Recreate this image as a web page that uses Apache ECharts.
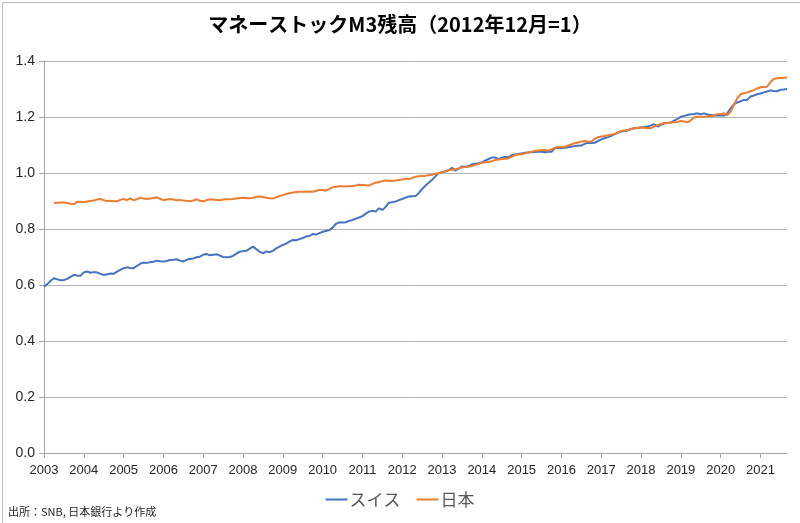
<!DOCTYPE html>
<html>
<head>
<meta charset="utf-8">
<script src="https://cdn.jsdelivr.net/npm/echarts@6/dist/echarts.min.js"></script>
<style>
html,body{margin:0;padding:0;background:#fff;}
#chart{width:800px;height:523px;}
</style>
</head>
<body>
<div id="chart"></div>
<script>
// Monthly values, 2003-01 .. 2021-09 (index: 2012年12月 = 1)
const swiss2003 = [0.594, 0.603, 0.615, 0.624, 0.620, 0.617, 0.618, 0.622, 0.629, 0.636, 0.634, 0.633];
const swiss2004 = [0.645, 0.648, 0.644, 0.646, 0.645, 0.640, 0.636, 0.638, 0.641, 0.640, 0.648, 0.654];
const swiss2005 = [0.660, 0.663, 0.661, 0.660, 0.668, 0.676, 0.680, 0.679, 0.681, 0.683, 0.687, 0.685];
const swiss2006 = [0.684, 0.686, 0.689, 0.690, 0.692, 0.687, 0.684, 0.690, 0.693, 0.695, 0.699, 0.701];
const swiss2007 = [0.708, 0.711, 0.706, 0.708, 0.710, 0.705, 0.700, 0.699, 0.700, 0.704, 0.712, 0.719];
const swiss2008 = [0.721, 0.722, 0.730, 0.737, 0.728, 0.719, 0.713, 0.720, 0.717, 0.722, 0.731, 0.737];
const swiss2009 = [0.743, 0.748, 0.755, 0.761, 0.760, 0.764, 0.768, 0.773, 0.775, 0.782, 0.780, 0.785];
const swiss2010 = [0.790, 0.793, 0.796, 0.805, 0.818, 0.824, 0.823, 0.824, 0.829, 0.832, 0.837, 0.841];
const swiss2011 = [0.846, 0.855, 0.862, 0.865, 0.862, 0.874, 0.868, 0.879, 0.894, 0.896, 0.898, 0.903];
const swiss2012 = [0.907, 0.912, 0.916, 0.917, 0.918, 0.928, 0.943, 0.955, 0.965, 0.976, 0.988, 1.000];
const swiss2013 = [1.003, 1.006, 1.010, 1.019, 1.008, 1.016, 1.023, 1.022, 1.024, 1.031, 1.033, 1.035];
const swiss2014 = [1.038, 1.044, 1.050, 1.055, 1.055, 1.050, 1.054, 1.058, 1.056, 1.064, 1.066, 1.068];
const swiss2015 = [1.070, 1.072, 1.073, 1.074, 1.075, 1.076, 1.076, 1.074, 1.076, 1.076, 1.088, 1.090];
const swiss2016 = [1.089, 1.090, 1.092, 1.094, 1.096, 1.097, 1.098, 1.104, 1.108, 1.107, 1.108, 1.114];
const swiss2017 = [1.120, 1.124, 1.128, 1.133, 1.138, 1.144, 1.148, 1.150, 1.152, 1.157, 1.160, 1.161];
const swiss2018 = [1.163, 1.164, 1.166, 1.170, 1.174, 1.166, 1.172, 1.178, 1.179, 1.180, 1.187, 1.193];
const swiss2019 = [1.201, 1.204, 1.207, 1.210, 1.211, 1.213, 1.210, 1.213, 1.209, 1.207, 1.205, 1.205];
const swiss2020 = [1.205, 1.205, 1.213, 1.231, 1.245, 1.252, 1.256, 1.261, 1.261, 1.273, 1.277, 1.281];
const swiss2021 = [1.284, 1.288, 1.291, 1.295, 1.293, 1.292, 1.297, 1.298, 1.300];

const japan2003 = [null, null, null, 0.893, 0.894, 0.895, 0.895, 0.893, 0.890, 0.889, 0.897, 0.896];
const japan2004 = [0.896, 0.898, 0.900, 0.902, 0.905, 0.907, 0.903, 0.900, 0.901, 0.899, 0.899, 0.904];
const japan2005 = [0.907, 0.903, 0.909, 0.903, 0.906, 0.912, 0.909, 0.907, 0.909, 0.911, 0.913, 0.908];
const japan2006 = [0.903, 0.905, 0.907, 0.905, 0.903, 0.904, 0.902, 0.901, 0.899, 0.902, 0.906, 0.901];
const japan2007 = [0.899, 0.903, 0.906, 0.905, 0.904, 0.903, 0.905, 0.906, 0.906, 0.907, 0.909, 0.911];
const japan2008 = [0.912, 0.911, 0.910, 0.912, 0.914, 0.916, 0.914, 0.912, 0.910, 0.909, 0.913, 0.918];
const japan2009 = [0.921, 0.925, 0.928, 0.930, 0.932, 0.933, 0.933, 0.933, 0.934, 0.933, 0.936, 0.939];
const japan2010 = [0.939, 0.937, 0.943, 0.949, 0.951, 0.953, 0.953, 0.953, 0.953, 0.954, 0.955, 0.958];
const japan2011 = [0.957, 0.956, 0.955, 0.961, 0.965, 0.968, 0.971, 0.973, 0.972, 0.971, 0.973, 0.975];
const japan2012 = [0.977, 0.980, 0.978, 0.982, 0.987, 0.988, 0.989, 0.990, 0.992, 0.994, 0.997, 1.000];
const japan2013 = [1.002, 1.005, 1.011, 1.012, 1.013, 1.016, 1.020, 1.021, 1.023, 1.025, 1.029, 1.032];
const japan2014 = [1.037, 1.038, 1.039, 1.042, 1.046, 1.048, 1.050, 1.051, 1.052, 1.058, 1.064, 1.066];
const japan2015 = [1.067, 1.070, 1.073, 1.076, 1.079, 1.080, 1.081, 1.082, 1.079, 1.084, 1.090, 1.092];
const japan2016 = [1.093, 1.094, 1.098, 1.102, 1.106, 1.109, 1.112, 1.114, 1.112, 1.112, 1.122, 1.128];
const japan2017 = [1.130, 1.132, 1.135, 1.137, 1.139, 1.145, 1.150, 1.152, 1.154, 1.157, 1.160, 1.162];
const japan2018 = [1.162, 1.162, 1.161, 1.160, 1.166, 1.171, 1.175, 1.178, 1.179, 1.180, 1.181, 1.182];
const japan2019 = [1.186, 1.184, 1.181, 1.188, 1.198, 1.201, 1.201, 1.201, 1.202, 1.203, 1.205, 1.210];
const japan2020 = [1.211, 1.213, 1.207, 1.219, 1.243, 1.267, 1.281, 1.285, 1.288, 1.292, 1.296, 1.302];
const japan2021 = [1.306, 1.307, 1.308, 1.324, 1.336, 1.338, 1.339, 1.340, 1.341];

const years = [2003,2004,2005,2006,2007,2008,2009,2010,2011,2012,2013,2014,2015,2016,2017,2018,2019,2020,2021];
const yTicks = [0.0, 0.2, 0.4, 0.6, 0.8, 1.0, 1.2, 1.4];
const seriesNames = ['スイス', '日本'];
const titleText = 'マネーストックM3残高（2012年12月=1）';
const sourceText = '出所：SNB, 日本銀行より作成';

const swiss = [].concat(swiss2003, swiss2004, swiss2005, swiss2006, swiss2007, swiss2008, swiss2009,
  swiss2010, swiss2011, swiss2012, swiss2013, swiss2014, swiss2015, swiss2016, swiss2017, swiss2018,
  swiss2019, swiss2020, swiss2021);
const japan = [].concat(japan2003, japan2004, japan2005, japan2006, japan2007, japan2008, japan2009,
  japan2010, japan2011, japan2012, japan2013, japan2014, japan2015, japan2016, japan2017, japan2018,
  japan2019, japan2020, japan2021);

// Category labels: YYYY-MM
const months = [];
years.forEach(function (y) {
  for (let m = 1; m <= 12; m++) {
    if (months.length < swiss.length) months.push(y + '-' + (m < 10 ? '0' + m : m));
  }
});

const FONT = '"Liberation Sans", "Noto Sans CJK JP", sans-serif';
const chart = echarts.init(document.getElementById('chart'), null, { renderer: 'canvas' });
chart.setOption({
  animation: false,
  backgroundColor: '#ffffff',
  textStyle: { fontFamily: FONT },
  title: {
    text: titleText,
    left: 'center',
    top: 9,
    textStyle: { fontFamily: '"Noto Sans CJK JP", sans-serif', fontSize: 20, fontWeight: 'bold', color: '#000000' }
  },
  legend: {
    data: seriesNames.map(function (n) { return { name: n, icon: 'rect' }; }),
    left: 'center',
    top: 486,
    itemWidth: 22,
    itemHeight: 2,
    itemGap: 16,
    textStyle: { fontFamily: '"Noto Sans CJK JP", sans-serif', fontSize: 17, color: '#595959', padding: [0, 0, 0, -3] }
  },
  grid: { left: 44, right: 13, top: 61, bottom: 70, containLabel: false },
  xAxis: {
    type: 'category',
    data: months,
    boundaryGap: false,
    axisLine: { show: true, lineStyle: { color: '#a6a6a6', width: 1 } },
    axisTick: {
      show: true, length: 5,
      interval: function (i) { return i % 12 === 0; },
      lineStyle: { color: '#a6a6a6' }
    },
    axisLabel: {
      interval: function (i) { return i % 12 === 0; },
      formatter: function (v) { return v.slice(0, 4); },
      fontSize: 13, color: '#262626', margin: 11, fontFamily: FONT
    },
    splitLine: { show: false }
  },
  yAxis: {
    type: 'value',
    min: yTicks[0],
    max: yTicks[yTicks.length - 1],
    interval: 0.2,
    axisLine: { show: true, lineStyle: { color: '#a6a6a6', width: 1 } },
    axisTick: { show: true, length: 5, lineStyle: { color: '#a6a6a6' } },
    axisLabel: {
      formatter: function (v) { return v.toFixed(1); },
      fontSize: 14, color: '#262626', margin: 9, fontFamily: FONT
    },
    splitLine: { show: true, lineStyle: { color: '#b4b4b4', width: 1 } }
  },
  series: [
    {
      name: seriesNames[0], type: 'line', data: swiss, showSymbol: false, symbol: 'none',
      lineStyle: { color: '#4472C4', width: 2 }, itemStyle: { color: '#4472C4' }, z: 3
    },
    {
      name: seriesNames[1], type: 'line', data: japan, showSymbol: false, symbol: 'none',
      lineStyle: { color: '#ED7D31', width: 2 }, itemStyle: { color: '#ED7D31' }, z: 4
    }
  ],
  graphic: [
    {
      type: 'text', left: 8, top: 506,
      style: { text: sourceText, fontSize: 11, fill: '#262626', fontFamily: '"Noto Sans CJK JP", sans-serif' }
    },
    {
      type: 'rect', left: 0, top: 0, silent: true,
      shape: { x: 0.5, y: 0.5, width: 799, height: 521 },
      style: { fill: 'none', stroke: '#bfbfbf', lineWidth: 1 }
    }
  ]
});
</script>
</body>
</html>
